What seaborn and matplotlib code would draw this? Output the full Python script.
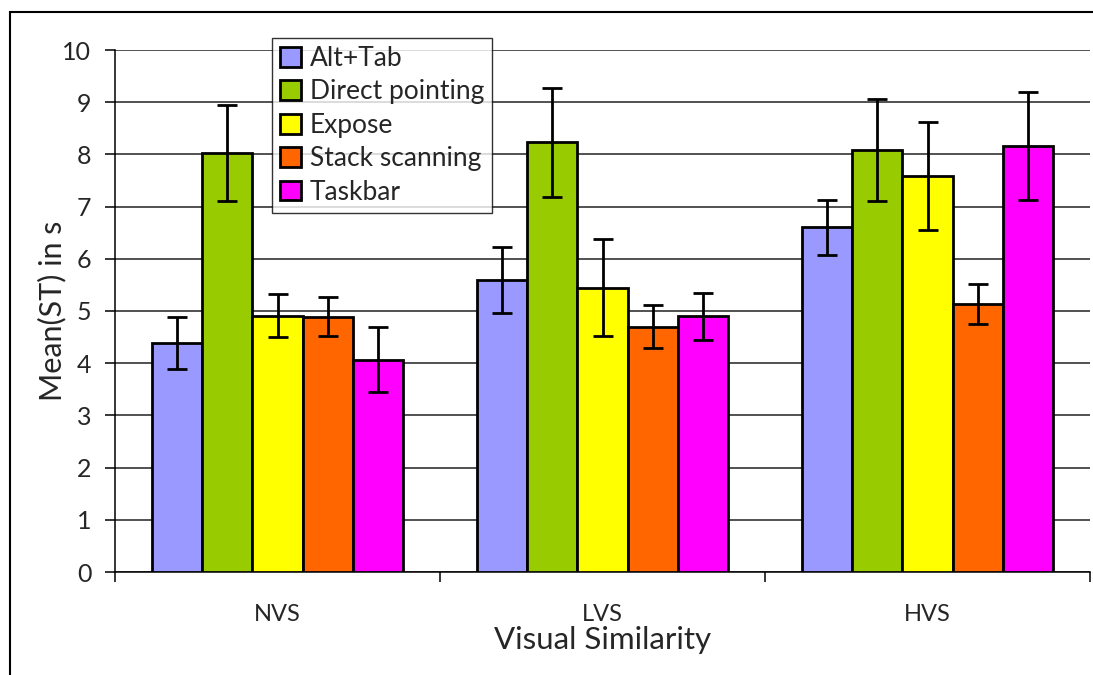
import pandas as pd
import matplotlib
matplotlib.use("Agg")
import matplotlib.pyplot as plt
import seaborn as sns
from matplotlib.patches import Rectangle

# values
conditions = ["NVS", "LVS", "HVS"]
techniques = ["Alt+Tab", "Direct pointing", "Expose", "Stack scanning", "Taskbar"]
colors = ["#9999FF", "#99CC00", "#FFFF00", "#FF6600", "#FF00FF"]

alt_tab = [4.38, 5.59, 6.60]
direct_pointing = [8.02, 8.23, 8.09]
expose = [4.91, 5.45, 7.59]
stack_scanning = [4.89, 4.70, 5.13]
taskbar = [4.07, 4.90, 8.16]

alt_tab_err = [0.50, 0.63, 0.53]
direct_pointing_err = [0.92, 1.05, 0.98]
expose_err = [0.41, 0.93, 1.03]
stack_scanning_err = [0.37, 0.41, 0.38]
taskbar_err = [0.62, 0.45, 1.04]

means = [alt_tab, direct_pointing, expose, stack_scanning, taskbar]
errs = [alt_tab_err, direct_pointing_err, expose_err, stack_scanning_err, taskbar_err]

rows = []
for t, m, e in zip(techniques, means, errs):
    for c, v, s in zip(conditions, m, e):
        rows.append({"Visual Similarity": c, "Technique": t, "Mean": v, "Err": s})
df = pd.DataFrame(rows)

sns.set_style("white")
plt.rcParams["font.family"] = ["Lato", "DejaVu Sans"]

fig = plt.figure(figsize=(10.93, 6.75), dpi=100)
ax = fig.add_axes([115 / 1093, 1 - 572 / 675, 975 / 1093, 522 / 675])

sns.barplot(data=df, x="Visual Similarity", y="Mean", hue="Technique",
            order=conditions, hue_order=techniques, palette=colors,
            errorbar=None, width=0.77, edgecolor="black", linewidth=2,
            saturation=1, ax=ax, zorder=3)

# error bars placed on the bars drawn by seaborn
for cont, t in zip(ax.containers, techniques):
    sub = df[df["Technique"] == t].set_index("Visual Similarity").loc[conditions]
    xs = [p.get_x() + p.get_width() / 2 for p in cont.patches]
    ax.errorbar(xs, sub["Mean"].values, yerr=sub["Err"].values, fmt="none",
                ecolor="black", elinewidth=2, capsize=7.5, capthick=2, zorder=4)

ax.set_ylim(0, 10)
ax.set_xlim(-0.5, 2.5)
ax.set_yticks(range(0, 11))
ax.yaxis.grid(True, color="#222222", linewidth=1.1)
ax.set_axisbelow(True)
for s in ["top", "right"]:
    ax.spines[s].set_visible(False)
for s in ["left", "bottom"]:
    ax.spines[s].set_linewidth(1.1)
    ax.spines[s].set_color("black")

ax.set_xticks([-0.5, 0.5, 1.5, 2.5])
ax.set_xticklabels([])
ax.set_xticks([0, 1, 2], minor=True)
ax.set_xticklabels(conditions, minor=True, fontsize=17)
ax.tick_params(axis="x", which="major", direction="out", length=7, width=1.1, color="black")
ax.tick_params(axis="x", which="minor", length=0, pad=23)
ax.tick_params(axis="y", direction="out", length=7, width=1.1, color="black", pad=10, labelsize=18)
ax.tick_params(left=True, bottom=True)

ax.set_xlabel("Visual Similarity", fontsize=22.5)
ax.xaxis.set_label_coords(0.5, -0.103)
ax.set_ylabel("Mean(ST) in s", fontsize=22)
ax.yaxis.set_label_coords(-0.05, 0.5)

leg = ax.legend(loc="upper left", bbox_to_anchor=((272 - 115) / 975, (572 - 38) / 522),
                borderaxespad=0, fontsize=19, frameon=True, fancybox=False,
                handlelength=0.78, handleheight=0.78, handletextpad=0.35,
                labelspacing=0.32, borderpad=0.3, title=None)
leg.get_frame().set_edgecolor("black")
leg.get_frame().set_linewidth(1.0)
leg.set_zorder(10)
for h in leg.legend_handles:
    h.set_edgecolor("black")
    h.set_linewidth(2)

# outer chart frame, cut off at right and bottom like the reference
fig.patches.append(Rectangle((10 / 1093, -0.1), 1.2, 1 - 12 / 675 + 0.1,
                             transform=fig.transFigure, fill=False,
                             edgecolor="black", linewidth=1.5))

fig.savefig("out.png", dpi=100)
